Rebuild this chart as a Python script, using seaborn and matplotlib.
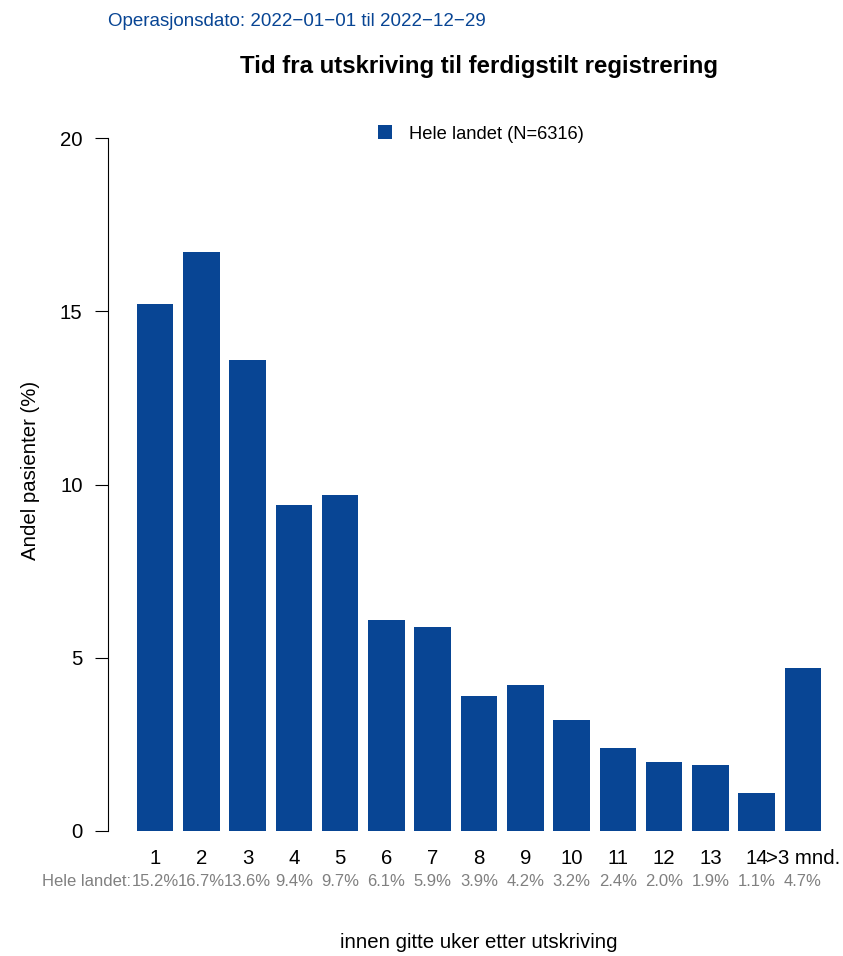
import matplotlib
matplotlib.use("Agg")
import matplotlib.pyplot as plt
import seaborn as sns
import pandas as pd
from matplotlib.patches import Patch
import matplotlib.transforms as mtransforms

categories = ["1", "2", "3", "4", "5", "6", "7", "8", "9", "10", "11", "12", "13", "14", ">3 mnd."]
values = [15.2, 16.7, 13.6, 9.4, 9.7, 6.1, 5.9, 3.9, 4.2, 3.2, 2.4, 2.0, 1.9, 1.1, 4.7]
pct_labels = ["15.2%", "16.7%", "13.6%", "9.4%", "9.7%", "6.1%", "5.9%", "3.9%", "4.2%",
              "3.2%", "2.4%", "2.0%", "1.9%", "1.1%", "4.7%"]
y_ticks = [0, 5, 10, 15, 20]
legend_label = "Hele landet (N=6316)"
row_label = "Hele landet:"
title = "Tid fra utskriving til ferdigstilt registrering"
subtitle = "Operasjonsdato: 2022\u221201\u221201 til 2022\u221212\u221229"
xlabel = "innen gitte uker etter utskriving"
ylabel = "Andel pasienter (%)"

BLUE = "#084594"
GRAY = "#808080"
sns.set_style("white")
plt.rcParams["font.family"] = ["Liberation Sans", "DejaVu Sans"]
plt.rcParams["text.color"] = "black"
plt.rcParams["xtick.color"] = "black"
plt.rcParams["ytick.color"] = "black"

W, H = 843, 956
fig = plt.figure(figsize=(W / 100, H / 100), dpi=100)

def fx(px):
    return px / W

def fy(py):
    return 1 - py / H

ax = fig.add_axes([fx(107.5), fy(831), fx(826) - fx(107.5), fy(138) - fy(831)])
df = pd.DataFrame({"cat": categories, "val": values})
sns.barplot(data=df, x="cat", y="val", order=categories, color=BLUE, saturation=1,
            width=0.79, ax=ax, edgecolor="none")
ax.set_xlim(-1.03, 14.5)
ax.set_ylim(0, 20)
for s in ["top", "right", "bottom"]:
    ax.spines[s].set_visible(False)
ax.spines["left"].set_bounds(0, 20)
ax.spines["left"].set_color("black")
ax.spines["left"].set_linewidth(0.8)
ax.set_yticks(y_ticks)
ax.set_yticklabels([str(t) for t in y_ticks], fontsize=14.7)
ax.tick_params(axis="y", direction="out", length=9.5, width=0.8, left=True, pad=8.5, colors="black")
ax.set_xticks(range(len(categories)))
ax.set_xticklabels(categories, fontsize=14.7)
ax.tick_params(axis="x", length=0, pad=13)
ax.set_xlabel("")
ax.set_ylabel("")

trans = mtransforms.blended_transform_factory(ax.transData, fig.transFigure)
for i, lab in enumerate(pct_labels):
    ax.text(i, fy(882), lab, transform=trans, ha="center", va="center", fontsize=12, color=GRAY)
fig.text(fx(131), fy(882), row_label, ha="right", va="center", fontsize=12, color=GRAY)

fig.text(fx(479), fy(943), xlabel, ha="center", va="center", fontsize=14.7)
fig.text(fx(30), fy(470), ylabel, ha="center", va="center", rotation=90, fontsize=14.7)
fig.text(fx(479), fy(67), title, ha="center", va="center", fontsize=17.3, fontweight="bold")
fig.text(fx(108), fy(22), subtitle, ha="left", va="center", fontsize=13.5, color=BLUE)

handles = [Patch(facecolor=BLUE, edgecolor="none", label=legend_label)]
fig.legend(handles=handles, loc="center", bbox_to_anchor=(fx(481), fy(134)), frameon=False,
           fontsize=13.2, handlelength=0.75, handleheight=0.75, handletextpad=0.9)

fig.savefig("out.png", dpi=100)
